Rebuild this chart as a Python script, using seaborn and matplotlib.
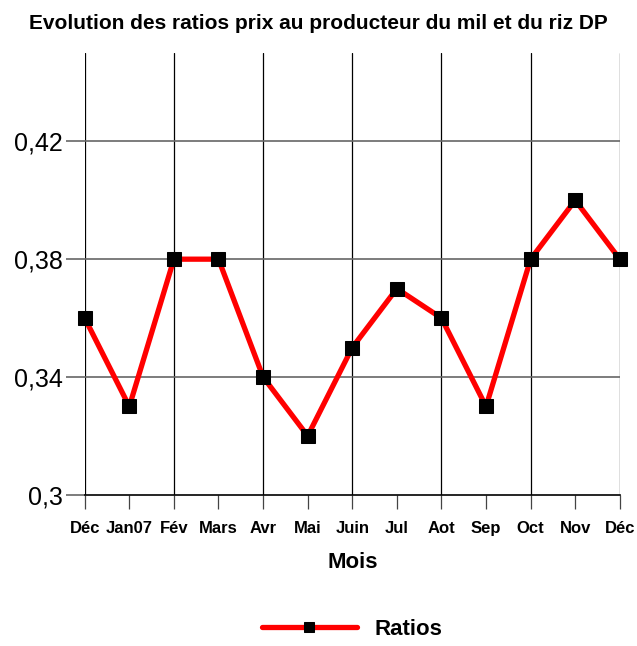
import matplotlib
matplotlib.use("Agg")
import matplotlib.pyplot as plt
import seaborn as sns
import pandas as pd

months = ["Déc", "Jan07", "Fév", "Mars", "Avr", "Mai", "Juin", "Jul", "Aot", "Sep", "Oct", "Nov", "Déc"]
ratios = [0.36, 0.33, 0.38, 0.38, 0.34, 0.32, 0.35, 0.37, 0.36, 0.33, 0.38, 0.40, 0.38]
yticks = [0.30, 0.34, 0.38, 0.42]
ytick_labels = ["0,3", "0,34", "0,38", "0,42"]

sns.set_style("white")
plt.rcParams["font.family"] = ["Liberation Sans", "DejaVu Sans"]
plt.rcParams["text.color"] = "black"
plt.rcParams["axes.labelcolor"] = "black"
plt.rcParams["xtick.color"] = "black"
plt.rcParams["ytick.color"] = "black"

df = pd.DataFrame({"idx": range(len(months)), "ratio": ratios})

fig = plt.figure(figsize=(6.37, 6.46), dpi=100)
ax = fig.add_axes([0.133, 0.234, 0.84, 0.684])

# grid lines
for i in range(0, len(months), 2):
    ax.axvline(i, color="black", lw=0.9, zorder=1)
for v in yticks[1:]:
    ax.axhline(v, color="#666666", lw=1.2, zorder=1)

sns.lineplot(data=df, x="idx", y="ratio", ax=ax, color="red", lw=3.8,
             marker="s", markersize=10, markerfacecolor="black",
             markeredgecolor="black", label="Ratios", zorder=3, clip_on=False)

ax.set_xlim(0, len(months) - 1)
ax.set_ylim(0.30, 0.45)
ax.set_xticks(range(len(months)))
ax.set_xticklabels(months, fontsize=12, fontweight="bold")
ax.set_yticks(yticks)
ax.set_yticklabels(ytick_labels, fontsize=18)
ax.tick_params(axis="x", direction="out", length=10, width=0.9, color="#444444",
               bottom=True, pad=9)
ax.tick_params(axis="y", direction="out", length=14, width=1.2, color="#666666",
               left=True, pad=2)

for s in ["top", "right", "left"]:
    ax.spines[s].set_visible(False)
ax.spines["bottom"].set_color("black")
ax.spines["bottom"].set_linewidth(1.2)

ax.set_xlabel("Mois", fontsize=16, fontweight="bold", labelpad=11)
ax.set_ylabel("")
fig.suptitle("Evolution des ratios prix au producteur du mil et du riz DP",
             fontsize=15, fontweight="bold", y=0.978)

leg = ax.legend(loc="upper center", bbox_to_anchor=(0.5, -0.245), frameon=False,
                handlelength=4.3, borderpad=0.2, prop={"weight": "bold", "size": 16})
for h in leg.get_lines():
    h.set_markersize(7)

fig.savefig("out.png", dpi=100)
